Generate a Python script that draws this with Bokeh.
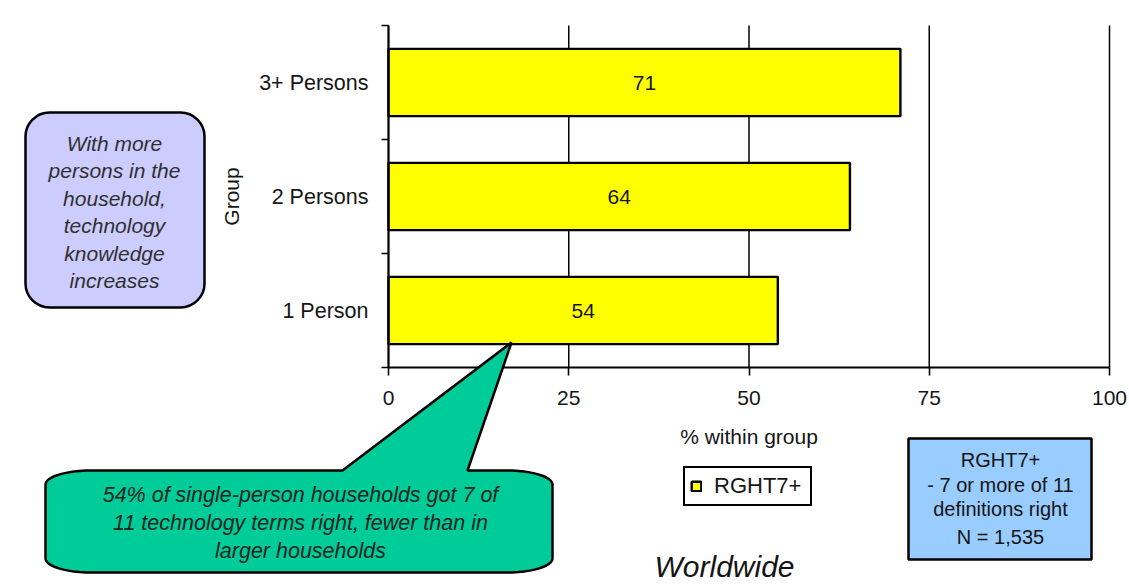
import math

from bokeh.plotting import figure
from bokeh.core.properties import value
from bokeh.models import (Range1d, FixedTicker, LinearAxis, Label, LabelSet, BoxAnnotation,
                          PolyAnnotation, ColumnDataSource)
from bokeh.embed import file_html
from bokeh.resources import INLINE

# --- data -------------------------------------------------------------
groups = ["1 Person", "2 Persons", "3+ Persons"]
rght7_pct = [54, 64, 71]
series_name = "RGHT7+"
x_ticks = [0, 25, 50, 75, 100]

# --- page geometry (pixels from the page's top-left corner) ----------
W, H = 1129, 586
PL, PR, PT, PB = 388, 1109, 25, 367      # edges of the bar area
FONT = "Liberation Sans"
TXT = "#151515"

n = len(groups)
x_per_px = 100 / (PR - PL)
y_per_px = n / (PB - PT)

# the plotting frame covers the whole page; axes sit inside it
p = figure(width=W, height=H,
           x_range=Range1d(-PL * x_per_px, 100 + (W - PR) * x_per_px),
           y_range=Range1d(-(H - PB) * y_per_px, n + PT * y_per_px),
           output_backend="svg", toolbar_location=None,
           x_axis_location=None, y_axis_location=None,
           min_border=0)
p.outline_line_color = None
p.background_fill_color = "white"
p.border_fill_color = "white"
p.xgrid.visible = False
p.ygrid.visible = False


def sx(X):
    return X


def sy(Y):
    return H - Y


centers = [i + 0.5 for i in range(n)]
bounds = [float(i) for i in range(n + 1)]

# vertical grid lines at the x ticks
p.segment(x0=x_ticks, x1=x_ticks, y0=0, y1=n, line_color="black", line_width=1.5)

src = ColumnDataSource(dict(
    y=centers,
    pct=rght7_pct,
    mid=[v / 2 for v in rght7_pct],
    txt=[str(v) for v in rght7_pct],
))

p.hbar(y="y", left=0, right="pct", height=0.59, source=src,
       fill_color="#FFFF00", line_color="black", line_width=2.4,
       legend_label=series_name)

p.add_layout(LabelSet(x="mid", y="y", text="txt", source=src,
                      text_align="center", text_baseline="middle",
                      text_font=value(FONT), text_font_size="21px", text_color=TXT))

# --- x axis -----------------------------------------------------------
xa = LinearAxis(fixed_location=0, bounds=(0, 100), ticker=FixedTicker(ticks=x_ticks))
xa.axis_line_color = "black"
xa.axis_line_width = 2
xa.major_tick_line_color = "black"
xa.major_tick_line_width = 1.6
xa.major_tick_in = 0
xa.major_tick_out = 8
xa.minor_tick_line_color = None
xa.major_label_standoff = 15
xa.major_label_text_font = FONT
xa.major_label_text_font_size = "21px"
xa.major_label_text_color = TXT
xa.axis_label = "% within group"
xa.axis_label_text_font = FONT
xa.axis_label_text_font_size = "21px"
xa.axis_label_text_font_style = "normal"
xa.axis_label_text_color = TXT
xa.axis_label_standoff = 17
p.add_layout(xa, "below")

# --- y axis: group names centred, ticks between groups ---------------
ya = LinearAxis(fixed_location=0, bounds=(0, n),
                ticker=FixedTicker(ticks=centers, minor_ticks=bounds))
ya.major_label_overrides = {c: g for c, g in zip(centers, groups)}
ya.axis_line_color = "black"
ya.axis_line_width = 2
ya.major_tick_line_color = None
ya.major_tick_in = 0
ya.major_tick_out = 0
ya.minor_tick_line_color = "black"
ya.minor_tick_line_width = 1.6
ya.minor_tick_in = 0
ya.minor_tick_out = 7
ya.major_label_standoff = 13
ya.major_label_text_font = FONT
ya.major_label_text_font_size = "21.5px"
ya.major_label_text_color = TXT
ya.axis_label = "Group"
ya.axis_label_text_font = FONT
ya.axis_label_text_font_size = "21px"
ya.axis_label_text_font_style = "normal"
ya.axis_label_text_color = TXT
ya.axis_label_standoff = 13
p.add_layout(ya, "left")

# --- legend below the chart ------------------------------------------
lg = p.legend[0]
lg.location = (sx(683), sy(506))
lg.margin = 0
lg.padding = 5
lg.glyph_width = 12
lg.glyph_height = 12
lg.label_standoff = 12
lg.label_width = 91
lg.label_height = 26
lg.label_text_font = FONT
lg.label_text_font_size = "22px"
lg.label_text_color = TXT
lg.label_text_baseline = "middle"
lg.border_line_color = "black"
lg.border_line_alpha = 1
lg.border_line_width = 2.5
lg.background_fill_color = "white"
lg.background_fill_alpha = 1


def add_lines(lines, x, ys, size, style="normal", color=TXT):
    for text, y in zip(lines, ys):
        p.add_layout(Label(x=sx(x), y=sy(y), x_units="screen", y_units="screen",
                           text=text, text_align="center", text_baseline="middle",
                           text_font=FONT, text_font_size=size,
                           text_font_style=style, text_color=color))


def screen_box(left, right, top, bottom, **kw):
    return BoxAnnotation(left=sx(left), right=sx(right), top=sy(top), bottom=sy(bottom),
                         left_units="screen", right_units="screen",
                         top_units="screen", bottom_units="screen",
                         fill_alpha=1, line_color="black", line_alpha=1, line_width=2.5,
                         **kw)


# --- note box on the left --------------------------------------------
p.add_layout(screen_box(25, 204, 112, 307, fill_color="#CCCCFF", border_radius=24))
note_lines = ["With more", "persons in the", "household,", "technology",
              "knowledge", "increases"]
add_lines(note_lines, 114, [143 + 27.4 * k for k in range(len(note_lines))],
          "21px", "italic", "#303030")


# --- speech callout pointing at the 1-person bar ---------------------
def callout_outline(x0, y0, x1, y1, rx, ry, base_l, tip, base_r, m=12):
    pts = [(x0 + rx, y0), (base_l, y0), tip, (base_r, y0)]
    arcs = [(x1 - rx, y0 + ry, -90, 0), (x1 - rx, y1 - ry, 0, 90),
            (x0 + rx, y1 - ry, 90, 180), (x0 + rx, y0 + ry, 180, 270)]
    for cx, cy, a0, a1 in arcs:
        for k in range(m + 1):
            t = math.radians(a0 + (a1 - a0) * k / m)
            pts.append((cx + rx * math.cos(t), cy + ry * math.sin(t)))
    return pts


outline = callout_outline(45, 470, 552, 572, 46, 14, 342, (511, 342), 467)
p.add_layout(PolyAnnotation(xs=[sx(a) for a, _ in outline], ys=[sy(b) for _, b in outline],
                            xs_units="screen", ys_units="screen",
                            fill_color="#00CC99", fill_alpha=1,
                            line_color="black", line_alpha=1, line_width=2.5))
add_lines(["54% of single-person households got 7 of",
           "11 technology terms right, fewer than in",
           "larger households"], 300, [494, 522, 550], "21.5px", "italic", "#1a2420")

# --- definition box on the right -------------------------------------
p.add_layout(screen_box(908, 1091, 438, 559, fill_color="#99CCFF"))
add_lines(["RGHT7+", "- 7 or more of 11", "definitions right"], 1000,
          [459, 484, 508], "20px")
add_lines(["N = 1,535"], 1000, [536], "20px")

# --- region caption ----------------------------------------------------
add_lines(["Worldwide"], 724, [566], "30px", "italic")

open("out.html", "w").write(file_html(p, INLINE))
